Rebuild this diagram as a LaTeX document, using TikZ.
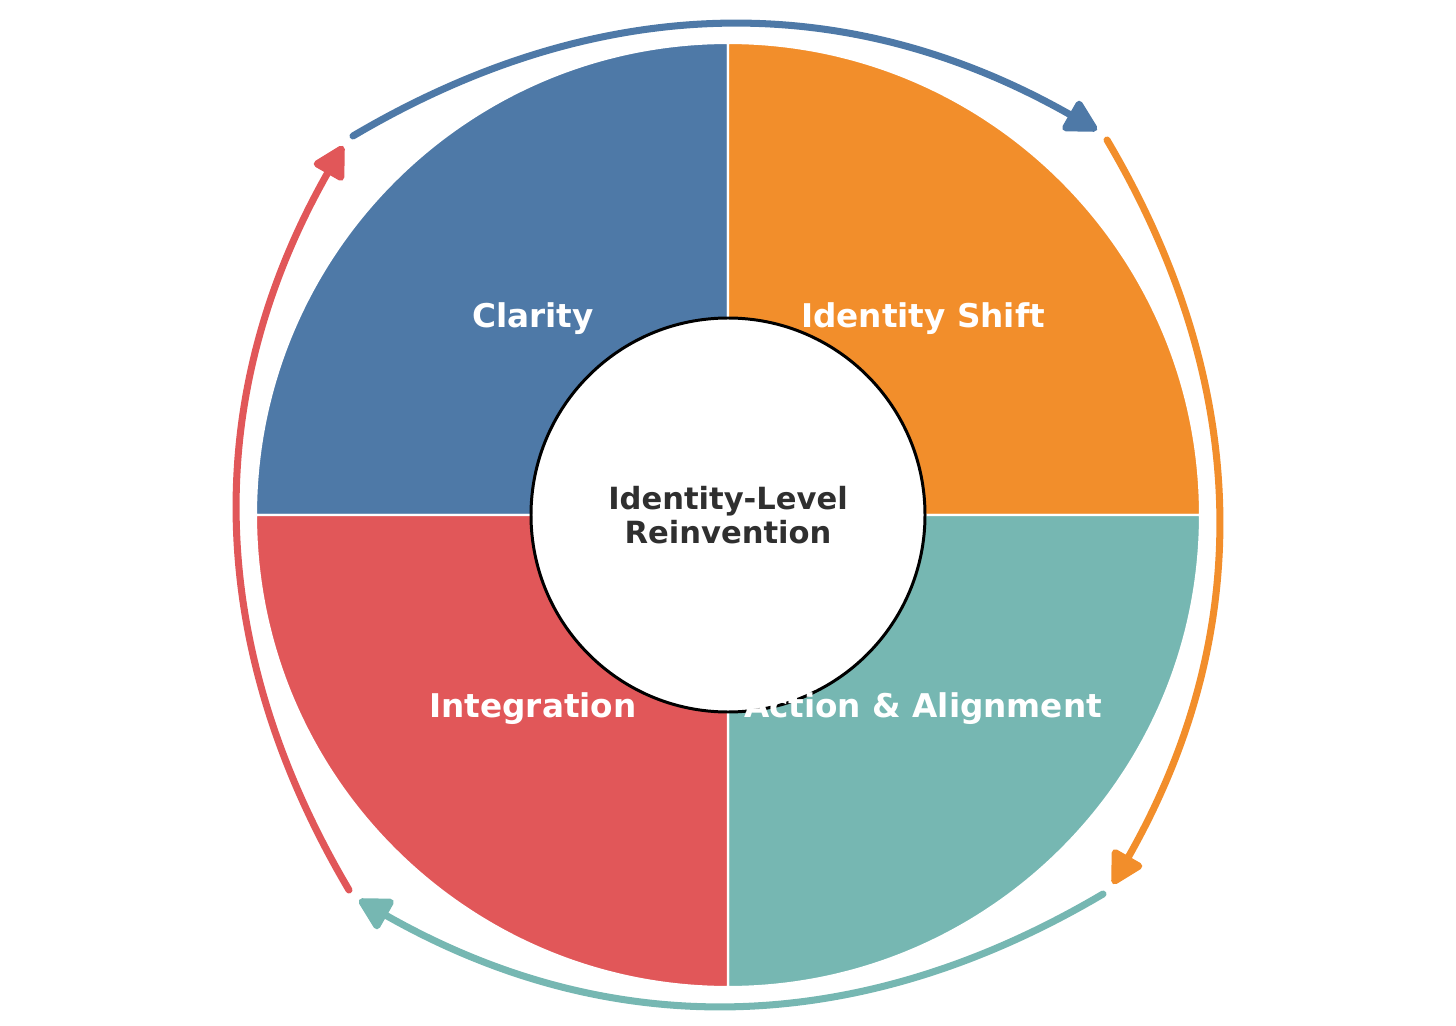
\documentclass[tikz,border=0pt]{standalone}
\usepackage{fontspec}
\setmainfont{DejaVu Sans}
\usepackage{xcolor}
\usepackage{tikz}
\usetikzlibrary{arrows.meta, calc}
\definecolor{clarityblue}{HTML}{4E79A7}
\definecolor{shiftorange}{HTML}{F28E2B}
\definecolor{actionteal}{HTML}{76B7B2}
\definecolor{integred}{HTML}{E15759}
\definecolor{coretext}{HTML}{2F2F2F}

\begin{document}
\begin{tikzpicture}[>={Triangle[length=3.6mm, width=3.7mm, round]}, font=\bfseries]
  \tikzset{
    sector/.style={draw=white, line width=0.6pt},
    phase/.style={text=white, font=\fontsize{9.3}{11}\selectfont\bfseries},
    flow/.style={->, line width=2pt, line cap=round}
  }
  \useasboundingbox (-7.28,-5.10) rectangle (7.28,5.15);

  % Vier Quadranten
  \filldraw[fill=clarityblue, sector] (0,0) -- (180:4.72) arc[start angle=180, end angle=90, radius=4.72] -- cycle;
  \filldraw[fill=shiftorange, sector] (0,0) -- (90:4.72) arc[start angle=90, end angle=0, radius=4.72] -- cycle;
  \filldraw[fill=actionteal, sector] (0,0) -- (0:4.72) arc[start angle=0, end angle=-90, radius=4.72] -- cycle;
  \filldraw[fill=integred, sector] (0,0) -- (270:4.72) arc[start angle=270, end angle=180, radius=4.72] -- cycle;

  % Kern
  \node[circle, draw=black, fill=white, line width=0.85pt, minimum size=3.94cm, inner sep=0pt] (core) at (0,0) {};
  \node[align=center, text=coretext, font=\fontsize{8.7}{9.9}\selectfont\bfseries] (corelabel) at (core.center) {Identity-Level\\Reinvention};

  % Phasen
  \node[phase] (clarity)  at (-1.95, 1.96) {Clarity};
  \node[phase] (shift)    at ( 1.95, 1.96) {Identity Shift};
  \node[phase] (action)   at ( 1.95,-1.94) {Action \& Alignment};
  \node[phase] (integ)    at (-1.95,-1.94) {Integration};

  % Kreislauf-Pfeile (Anfang und Spitze je Quadrant)
  \coordinate (b-a) at (-3.75, 3.79);  \coordinate (b-b) at ( 3.69, 3.85);
  \coordinate (o-a) at ( 3.79, 3.75);  \coordinate (o-b) at ( 3.85,-3.69);
  \coordinate (t-a) at ( 3.75,-3.79);  \coordinate (t-b) at (-3.69,-3.85);
  \coordinate (r-a) at (-3.79,-3.75);  \coordinate (r-b) at (-3.85, 3.69);
  % Bogen nach aussen: Kontrollpunkt der quadratischen Kurve
  \foreach \p in {b, o, t, r}
    \coordinate (\p-c) at ($($(\p-a)!0.5!(\p-b)$)!0.58!90:(\p-b)$);
  \draw[flow, clarityblue] (b-a) .. controls ($(b-a)!2/3!(b-c)$) and ($(b-b)!2/3!(b-c)$) .. (b-b);
  \draw[flow, shiftorange] (o-a) .. controls ($(o-a)!2/3!(o-c)$) and ($(o-b)!2/3!(o-c)$) .. (o-b);
  \draw[flow, actionteal]  (t-a) .. controls ($(t-a)!2/3!(t-c)$) and ($(t-b)!2/3!(t-c)$) .. (t-b);
  \draw[flow, integred]    (r-a) .. controls ($(r-a)!2/3!(r-c)$) and ($(r-b)!2/3!(r-c)$) .. (r-b);

\end{tikzpicture}
\end{document}
